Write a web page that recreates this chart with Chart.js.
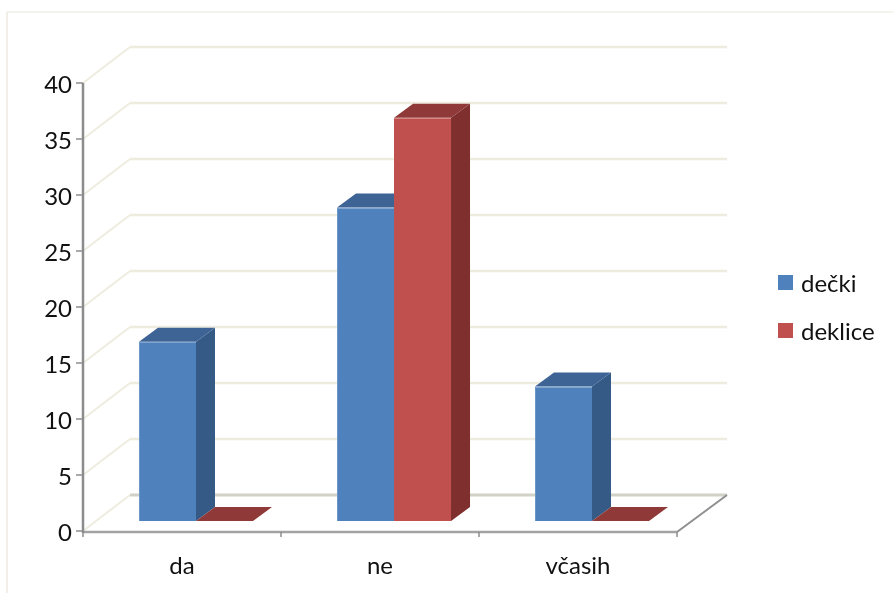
<!DOCTYPE html>
<html lang="sl">
<head>
    <meta charset="UTF-8">
    <title>dečki in deklice</title>
    <script src="https://cdn.jsdelivr.net/npm/chart.js"></script>
    <style>
        html, body { margin: 0; background: white; }
        .chart-box { position: relative; width: 893px; height: 593px; overflow: hidden; }
        .legend { position: absolute; left: 778px; top: 265px; font: 24px Lato, sans-serif; color: #111; }
        .legend div { display: flex; align-items: center; height: 35px; margin-bottom: 13px; white-space: nowrap; }
        .legend span { display: block; width: 15px; height: 15px; margin-right: 8px; }
    </style>
</head>
<body>
    <div class="chart-box">
        <canvas id="surveyChart"></canvas>
        <div class="legend" id="legend"></div>
    </div>

    <script>
    const categories = ['da', 'ne', 'včasih'];
    const deckiValues = [16, 28, 12];
    const delkiceValues = [0, 36, 0];

    // front plane of the axes and back wall, relative to the plane the bars stand on
    const FRONT_DX = -14, FRONT_DY = 10;
    const BACK_DX_LEFT = 33, BACK_DX_RIGHT = 36, BACK_DY = -26;
    const BAR_DX = 19, BAR_DY = -14;

    function line(ctx, x1, y1, x2, y2, color, width) {
        ctx.strokeStyle = color;
        ctx.lineWidth = width;
        ctx.beginPath();
        ctx.moveTo(x1, y1);
        ctx.lineTo(x2, y2);
        ctx.stroke();
    }

    function face(ctx, points, color) {
        ctx.fillStyle = color;
        ctx.beginPath();
        points.forEach((p, i) => i ? ctx.lineTo(p[0], p[1]) : ctx.moveTo(p[0], p[1]));
        ctx.closePath();
        ctx.fill();
    }

    const perspective = {
        id: 'perspective',
        beforeDatasetsDraw(chart) {
            const ctx = chart.ctx;
            const x = chart.scales.x, y = chart.scales.y;
            const frontL = x.left + FRONT_DX, frontR = x.right + FRONT_DX;
            const backL = x.left + BACK_DX_LEFT, backR = x.right + BACK_DX_RIGHT;
            const zero = y.getPixelForValue(0);

            ctx.save();
            // outer frame
            line(ctx, 7, 12, 893, 12, '#f1efe7', 1.5);
            line(ctx, 7, 12, 7, 593, '#f1efe7', 2);

            // side wall and back wall lines
            y.ticks.forEach(t => {
                const py = y.getPixelForValue(t.value);
                line(ctx, frontL, py + FRONT_DY, backL, py + BACK_DY, '#eeecdf', 2);
                if (t.value !== 0) line(ctx, backL, py + BACK_DY, backR, py + BACK_DY, '#eeecdf', 2.5);
            });

            // floor
            line(ctx, backL, zero + BACK_DY, backR, zero + BACK_DY, '#d2d1c7', 3);
            line(ctx, frontR, zero + FRONT_DY + 1, backR, zero + BACK_DY, '#8f8f8f', 2);

            // axis lines and tick marks on the front plane
            line(ctx, frontL, zero + FRONT_DY + 1, frontR, zero + FRONT_DY + 1, '#a3a3a3', 2.5);
            line(ctx, frontL, y.getPixelForValue(40) + FRONT_DY, frontL, zero + FRONT_DY + 2, '#8c8c8c', 2.5);
            y.ticks.forEach(t => {
                const py = y.getPixelForValue(t.value) + FRONT_DY;
                line(ctx, frontL - 7, py, frontL, py, '#8c8c8c', 1.5);
            });
            for (let i = 0; i <= categories.length; i++) {
                const px = frontL + i * x.width / categories.length;
                line(ctx, px, zero + FRONT_DY + 1, px, zero + FRONT_DY + 6, '#8c8c8c', 1.5);
            }

            // bar tops and sides, the flat fronts come from Chart.js afterwards
            chart.data.datasets.forEach((ds, di) => {
                chart.getDatasetMeta(di).data.forEach(bar => {
                    const b = bar.getProps(['x', 'y', 'base', 'width'], true);
                    const l = b.x - b.width / 2, r = b.x + b.width / 2;
                    face(ctx, [[r, b.y], [r + BAR_DX, b.y + BAR_DY], [r + BAR_DX, b.base + BAR_DY], [r, b.base]], ds.sideColor);
                    face(ctx, [[l, b.y], [l + BAR_DX, b.y + BAR_DY], [r + BAR_DX, b.y + BAR_DY], [r, b.y]], ds.topColor);
                });
            });
            ctx.restore();
        }
    };

    const labelFont = { family: 'Lato', size: 24 };

    const chart = new Chart(document.getElementById('surveyChart'), {
        type: 'bar',
        data: {
            labels: categories,
            datasets: [
                {
                    label: 'dečki',
                    data: deckiValues,
                    backgroundColor: '#4f81bd',
                    borderColor: '#6f97c9',
                    borderWidth: { top: 1, left: 1, right: 0, bottom: 1 },
                    sideColor: '#355a86',
                    topColor: '#3e6495'
                },
                {
                    label: 'deklice',
                    data: delkiceValues,
                    backgroundColor: '#c0504d',
                    borderColor: '#cf7875',
                    borderWidth: { top: 1, left: 0, right: 0, bottom: 0 },
                    sideColor: '#7f2f2d',
                    topColor: '#8f3a38'
                }
            ]
        },
        options: {
            responsive: true,
            maintainAspectRatio: false,
            animation: false,
            layout: { padding: { top: 73, right: 202, left: 0, bottom: 0 } },
            datasets: { bar: { categoryPercentage: 0.576, barPercentage: 1 } },
            plugins: {
                tooltip: { enabled: false },
                legend: { display: false }
            },
            scales: {
                x: {
                    grid: { display: false },
                    border: { display: false },
                    afterFit: scale => { scale.height = 72; },
                    ticks: { color: '#111', font: labelFont, labelOffset: FRONT_DX, padding: 23, maxRotation: 0 }
                },
                y: {
                    min: 0,
                    max: 40,
                    grid: { display: false },
                    border: { display: false },
                    afterFit: scale => { scale.width = 97; },
                    ticks: { color: '#111', font: labelFont, stepSize: 5, labelOffset: FRONT_DY + 2, padding: 17 }
                }
            }
        },
        plugins: [perspective]
    });

    // legend entries from the datasets
    chart.data.datasets.forEach(ds => {
        const row = document.createElement('div');
        const box = document.createElement('span');
        box.style.background = ds.backgroundColor;
        row.appendChild(box);
        row.appendChild(document.createTextNode(ds.label));
        document.getElementById('legend').appendChild(row);
    });
    </script>
</body>
</html>
